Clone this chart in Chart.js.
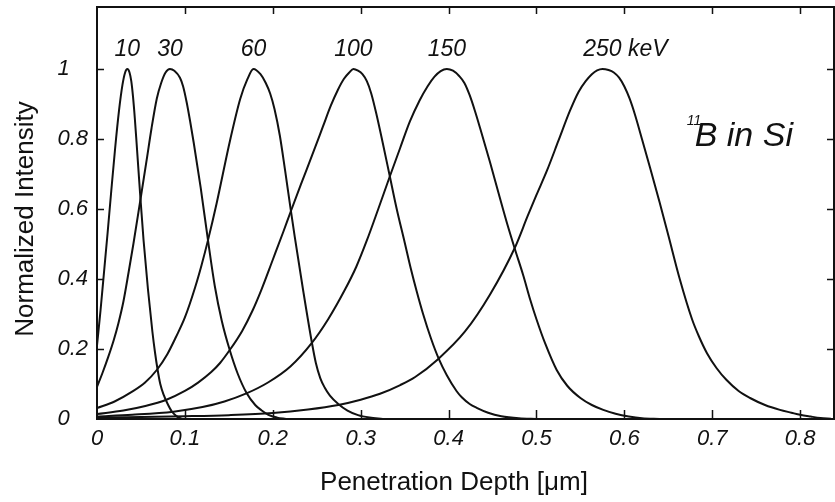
<!DOCTYPE html>
<html>
<head>
<meta charset="utf-8">
<script src="https://cdn.jsdelivr.net/npm/chart.js@4.4.1/dist/chart.umd.min.js"></script>
<style>
html,body{margin:0;padding:0;background:#fff;}
canvas{display:block;}
</style>
</head>
<body>
<canvas id="c" width="835" height="502"></canvas>
<script>
// ---- data ----
const energyLabels = ['10', '30', '60', '100', '150', '250 keV'];

const depth10 = [0, 0.004, 0.008, 0.012, 0.016, 0.0205, 0.025, 0.029, 0.032, 0.0345, 0.037, 0.039, 0.041, 0.043, 0.045, 0.049, 0.053, 0.058, 0.063, 0.066, 0.069, 0.072, 0.076, 0.080, 0.085, 0.090, 0.097];
const int10   = [0.21, 0.31, 0.42, 0.53, 0.645, 0.77, 0.88, 0.955, 0.99, 1.0, 0.99, 0.965, 0.92, 0.86, 0.79, 0.645, 0.51, 0.37, 0.25, 0.19, 0.14, 0.10, 0.068, 0.045, 0.022, 0.009, 0];

const depth30 = [0, 0.006, 0.0129, 0.019, 0.0243, 0.030, 0.036, 0.0414, 0.049, 0.0565, 0.062, 0.068, 0.073, 0.078, 0.083, 0.088, 0.0944, 0.098, 0.102, 0.106, 0.110, 0.118, 0.1263, 0.134, 0.142, 0.151, 0.160, 0.170, 0.180, 0.187, 0.195, 0.205, 0.215];
const int30   = [0.092, 0.13, 0.178, 0.225, 0.273, 0.335, 0.42, 0.50, 0.62, 0.74, 0.83, 0.915, 0.96, 0.99, 1.0, 0.995, 0.975, 0.95, 0.905, 0.85, 0.79, 0.66, 0.51, 0.38, 0.28, 0.197, 0.13, 0.075, 0.04, 0.025, 0.012, 0.004, 0];

const depth60 = [0, 0.02, 0.04, 0.055, 0.068, 0.080, 0.090, 0.100, 0.1115, 0.119, 0.1263, 0.136, 0.1513, 0.163, 0.171, 0.178, 0.186, 0.192, 0.197, 0.202, 0.208, 0.214, 0.220, 0.225, 0.2347, 0.244, 0.249, 0.254, 0.259, 0.265, 0.2745, 0.285, 0.297, 0.310, 0.325];
const int60   = [0.031, 0.05, 0.078, 0.105, 0.14, 0.185, 0.235, 0.29, 0.375, 0.44, 0.511, 0.615, 0.795, 0.915, 0.97, 1.0, 0.985, 0.96, 0.93, 0.885, 0.81, 0.71, 0.605, 0.52, 0.365, 0.225, 0.16, 0.117, 0.09, 0.067, 0.043, 0.024, 0.011, 0.004, 0];

const depth100 = [0, 0.03, 0.055, 0.079, 0.100, 0.115, 0.130, 0.140, 0.151, 0.165, 0.177, 0.187, 0.200, 0.212, 0.220, 0.232, 0.245, 0.257, 0.266, 0.274, 0.281, 0.287, 0.2917, 0.297, 0.302, 0.307, 0.312, 0.318, 0.325, 0.333, 0.341, 0.350, 0.357, 0.3637, 0.371, 0.380, 0.389, 0.398, 0.409, 0.415, 0.424, 0.432, 0.445, 0.460, 0.480, 0.500];
const int100   = [0.014, 0.024, 0.037, 0.055, 0.08, 0.104, 0.134, 0.16, 0.197, 0.251, 0.31, 0.369, 0.455, 0.535, 0.59, 0.67, 0.755, 0.835, 0.895, 0.94, 0.972, 0.99, 1.0, 0.995, 0.985, 0.965, 0.93, 0.87, 0.79, 0.695, 0.60, 0.505, 0.43, 0.365, 0.30, 0.23, 0.171, 0.125, 0.08, 0.062, 0.043, 0.032, 0.018, 0.008, 0.002, 0];

const depth150 = [0, 0.04, 0.087, 0.12, 0.145, 0.170, 0.195, 0.220, 0.244, 0.263, 0.282, 0.295, 0.307, 0.320, 0.333, 0.345, 0.356, 0.367, 0.376, 0.384, 0.391, 0.398, 0.405, 0.412, 0.418, 0.424, 0.430, 0.436, 0.447, 0.458, 0.467, 0.4755, 0.485, 0.493, 0.500, 0.510, 0.523, 0.535, 0.550, 0.563, 0.576, 0.590, 0.605, 0.620, 0.640];
const int150   = [0.007, 0.012, 0.021, 0.034, 0.05, 0.073, 0.105, 0.15, 0.216, 0.285, 0.369, 0.435, 0.51, 0.60, 0.692, 0.775, 0.85, 0.91, 0.95, 0.978, 0.994, 1.0, 0.995, 0.98, 0.96, 0.925, 0.88, 0.83, 0.735, 0.635, 0.555, 0.485, 0.41, 0.34, 0.285, 0.215, 0.14, 0.095, 0.06, 0.04, 0.026, 0.015, 0.007, 0.002, 0];

const depth250 = [0, 0.10, 0.15, 0.20, 0.24, 0.2745, 0.300, 0.322, 0.345, 0.362, 0.388, 0.4187, 0.447, 0.4755, 0.490, 0.500, 0.512, 0.525, 0.538, 0.548, 0.556, 0.563, 0.569, 0.575, 0.582, 0.588, 0.594, 0.600, 0.606, 0.612, 0.620, 0.629, 0.640, 0.650, 0.663, 0.677, 0.685, 0.694, 0.705, 0.716, 0.730, 0.743, 0.760, 0.777, 0.790, 0.800, 0.812, 0.823, 0.835];
const int250   = [0.004, 0.008, 0.011, 0.017, 0.027, 0.04, 0.055, 0.072, 0.097, 0.12, 0.171, 0.25, 0.355, 0.49, 0.58, 0.64, 0.71, 0.795, 0.88, 0.935, 0.965, 0.985, 0.996, 1.0, 0.997, 0.99, 0.975, 0.95, 0.915, 0.87, 0.80, 0.72, 0.62, 0.525, 0.40, 0.285, 0.235, 0.188, 0.145, 0.112, 0.08, 0.06, 0.04, 0.026, 0.018, 0.012, 0.007, 0.003, 0.001];

const xTickValues = [0, 0.1, 0.2, 0.3, 0.4, 0.5, 0.6, 0.7, 0.8];
const xTickLabels = ['0', '0.1', '0.2', '0.3', '0.4', '0.5', '0.6', '0.7', '0.8'];
const yTickValues = [0, 0.2, 0.4, 0.6, 0.8, 1];
const yTickLabels = ['0   ', '0.2', '0.4', '0.6', '0.8', '1   '];

const xTitle = 'Penetration Depth [\u03bcm]';
const yTitle = 'Normalized Intensity';
const noteSup = '11';
const noteMain = 'B in Si';

// ---- chart ----
const INK = '#111';
const FONT = "'Liberation Sans', Arial, sans-serif";
const series = [[depth10, int10], [depth30, int30], [depth60, int60], [depth100, int100], [depth150, int150], [depth250, int250]];

const decor = {
  id: 'decor',
  afterDraw(chart) {
    const {ctx, chartArea: a, scales: {x, y}} = chart;
    ctx.save();
    ctx.strokeStyle = INK;
    ctx.lineWidth = 2;
    ctx.strokeRect(a.left, a.top, a.right - a.left, a.bottom - a.top);
    ctx.lineWidth = 1.5;
    ctx.beginPath();
    xTickValues.forEach(v => {
      if (v === 0) return;
      const px = Math.round(x.getPixelForValue(v)) + 0.5;
      ctx.moveTo(px, a.bottom); ctx.lineTo(px, a.bottom - 9);
      ctx.moveTo(px, a.top); ctx.lineTo(px, a.top + 7);
    });
    yTickValues.forEach(v => {
      if (v === 0) return;
      const py = Math.round(y.getPixelForValue(v)) + 0.5;
      ctx.moveTo(a.left, py); ctx.lineTo(a.left + 7, py);
      ctx.moveTo(a.right, py); ctx.lineTo(a.right - 7, py);
    });
    ctx.stroke();

    ctx.fillStyle = INK;
    ctx.textBaseline = 'alphabetic';
    // energy labels above each peak
    ctx.font = 'italic 23px ' + FONT;
    series.forEach(([d, v], k) => {
      let m = 0;
      v.forEach((val, i) => { if (val > v[m]) m = i; });
      const px = x.getPixelForValue(d[m]);
      const py = y.getPixelForValue(v[m]) - 13;
      const parts = energyLabels[k].split(' ');
      const num = parts.shift();
      ctx.textAlign = 'center';
      ctx.fillText(num, px, py);
      if (parts.length) {
        const w = ctx.measureText(num).width;
        ctx.textAlign = 'left';
        ctx.fillText(' ' + parts.join(' '), px + w / 2, py);
      }
    });

    // 11B in Si
    const nx = x.getPixelForValue(0.68);
    const ny = y.getPixelForValue(0.78);
    ctx.textAlign = 'left';
    ctx.font = 'italic 34px ' + FONT;
    ctx.fillText(noteMain, nx, ny);
    ctx.font = 'italic 14px ' + FONT;
    ctx.fillText(noteSup, nx - 8, ny - 21);

    // axis titles
    ctx.font = '26px ' + FONT;
    ctx.textAlign = 'center';
    ctx.fillText(xTitle, a.left + 357, a.bottom + 71);
    ctx.save();
    ctx.translate(33, a.top + 212);
    ctx.rotate(-Math.PI / 2);
    ctx.fillText(yTitle, 0, 0);
    ctx.restore();
    ctx.restore();
  }
};

new Chart(document.getElementById('c'), {
  type: 'scatter',
  data: {
    datasets: series.map(([d, v], k) => ({
      label: energyLabels[k],
      data: d.map((xv, i) => ({x: xv, y: v[i]})),
      showLine: true,
      borderColor: INK,
      borderWidth: 2,
      pointRadius: 0,
      pointHoverRadius: 0,
      fill: false,
      cubicInterpolationMode: 'monotone'
    }))
  },
  options: {
    responsive: false,
    animation: false,
    devicePixelRatio: 1,
    layout: {autoPadding: false, padding: {left: 0, right: 1, top: 7, bottom: 0}},
    plugins: {legend: {display: false}, tooltip: {enabled: false}},
    events: [],
    scales: {
      x: {
        type: 'linear',
        min: 0,
        max: 0.8385,
        afterBuildTicks: s => { s.ticks = xTickValues.map(v => ({value: v})); },
        afterFit: s => { s.height = 83; s.paddingLeft = 0; s.paddingRight = 0; },
        ticks: {
          callback: (v, i) => xTickLabels[i],
          font: {family: FONT, style: 'italic', size: 22},
          color: INK,
          padding: 7,
          maxRotation: 0,
          autoSkip: false
        },
        grid: {display: false, drawTicks: false},
        border: {display: false}
      },
      y: {
        type: 'linear',
        min: 0,
        max: 1.177,
        afterBuildTicks: s => { s.ticks = yTickValues.map(v => ({value: v})); },
        afterFit: s => { s.width = 97; s.paddingTop = 0; s.paddingBottom = 0; },
        ticks: {
          callback: (v, i) => yTickLabels[i],
          font: {family: FONT, style: 'italic', size: 22},
          color: INK,
          padding: 9,
          autoSkip: false
        },
        grid: {display: false, drawTicks: false},
        border: {display: false}
      }
    }
  },
  plugins: [decor]
});
</script>
</body>
</html>
